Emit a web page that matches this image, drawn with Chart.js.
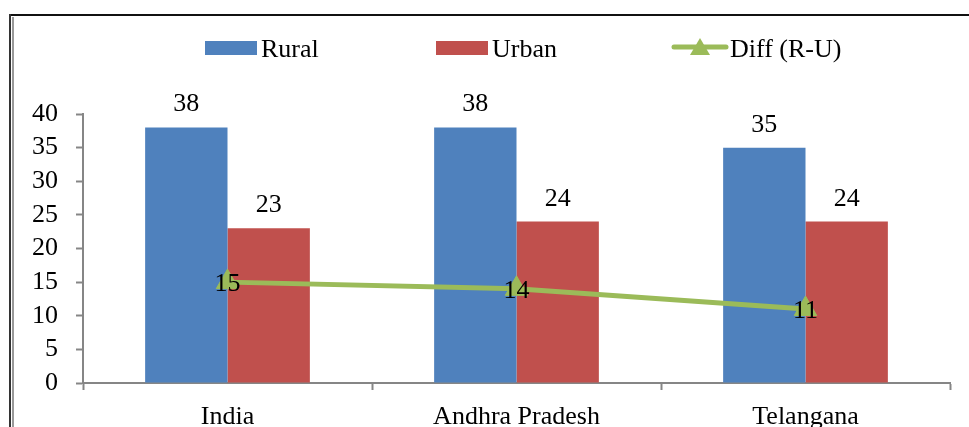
<!DOCTYPE html>
<html>
<head>
<meta charset="utf-8">
<script src="https://cdn.jsdelivr.net/npm/chart.js@4"></script>
<style>
  html, body { margin: 0; padding: 0; background: #fff; }
  #wrap { position: relative; width: 969px; height: 427px; overflow: hidden; }
  .frame-top { position: absolute; left: 9px; top: 14px; width: 980px; height: 2px; background: #111; }
  .frame-left1 { position: absolute; left: 9px; top: 14px; width: 2px; height: 440px; background: #333; }
  .frame-left2 { position: absolute; left: 12px; top: 17px; width: 2px; height: 440px; background: #999; }
  canvas { position: absolute; left: 0; top: 0; }
</style>
</head>
<body>
<div id="wrap">
  <div class="frame-top"></div>
  <div class="frame-left1"></div>
  <div class="frame-left2"></div>
  <canvas id="chart" width="969" height="427"></canvas>
</div>
<script>
const categories = ['India', 'Andhra Pradesh', 'Telangana'];
const rural = [38, 38, 35];
const urban = [23, 24, 24];
const diff = [15, 14, 11];
const yTicks = [0, 5, 10, 15, 20, 25, 30, 35, 40];

const BLUE = '#4F81BD';
const RED = '#C0504D';
const GREEN = '#9BBB59';
const FONT = '"Liberation Serif", "Times New Roman", serif';
const FS = 26;

// value labels on bars and line points
const valueLabels = {
  id: 'valueLabels',
  afterDatasetsDraw(chart) {
    const ctx = chart.ctx;
    ctx.save();
    ctx.font = FS + 'px ' + FONT;
    ctx.fillStyle = '#000';
    ctx.textAlign = 'center';
    ctx.textBaseline = 'alphabetic';
    chart.data.datasets.forEach((ds, i) => {
      const meta = chart.getDatasetMeta(i);
      meta.data.forEach((el, j) => {
        const v = ds.data[j];
        if (ds.type === 'line') {
          ctx.fillText(v, el.x, el.y + 9);
        } else {
          ctx.fillText(v, el.x, el.y - 16);
        }
      });
    });
    ctx.restore();
  }
};

// legend drawn to match the spacing of the original
const legendRow = {
  id: 'legendRow',
  afterDraw(chart) {
    const ctx = chart.ctx;
    const y = 48;
    const xs = [205, 436, 672];
    ctx.save();
    ctx.font = FS + 'px ' + FONT;
    ctx.textBaseline = 'alphabetic';
    ctx.textAlign = 'left';
    chart.data.datasets.forEach((ds, i) => {
      const x = xs[i];
      if (ds.type === 'line') {
        ctx.strokeStyle = ds.borderColor;
        ctx.lineWidth = 5;
        ctx.lineCap = 'round';
        ctx.beginPath();
        ctx.moveTo(x + 2, y - 1);
        ctx.lineTo(x + 54, y - 1);
        ctx.stroke();
        ctx.fillStyle = ds.borderColor;
        ctx.beginPath();
        ctx.moveTo(x + 28, y - 10);
        ctx.lineTo(x + 38, y + 7);
        ctx.lineTo(x + 18, y + 7);
        ctx.closePath();
        ctx.fill();
        ctx.fillStyle = '#000';
        ctx.fillText(ds.label, x + 58, y + 9);
      } else {
        ctx.fillStyle = ds.backgroundColor;
        ctx.fillRect(x, y - 7, 52, 14);
        ctx.fillStyle = '#000';
        ctx.fillText(ds.label, x + 56, y + 9);
      }
    });
    ctx.restore();
  }
};

new Chart(document.getElementById('chart'), {
  type: 'bar',
  data: {
    labels: categories,
    datasets: [
      { label: 'Rural', data: rural, backgroundColor: BLUE, order: 2 },
      { label: 'Urban', data: urban, backgroundColor: RED, order: 2 },
      { type: 'line', label: 'Diff (R-U)', data: diff, borderColor: GREEN, backgroundColor: GREEN,
        borderWidth: 5, pointStyle: 'triangle', pointRadius: 13, pointBackgroundColor: GREEN,
        pointBorderColor: GREEN, pointBorderWidth: 1, tension: 0, order: 0 }
    ]
  },
  plugins: [valueLabels, legendRow],
  options: {
    responsive: false,
    animation: false,
    layout: { padding: { top: 114, right: 19, left: 0, bottom: 0 } },
    datasets: { bar: { categoryPercentage: 0.57, barPercentage: 1.0 } },
    plugins: { legend: { display: false }, tooltip: { enabled: false } },
    scales: {
      x: {
        afterFit(s) { s.height = 44; },
        grid: { offset: true, drawOnChartArea: false, drawTicks: true, tickLength: 7, tickColor: '#868686', tickWidth: 2 },
        border: { color: '#868686', width: 2 },
        ticks: { color: '#000', font: { family: FONT, size: FS }, padding: 12, autoSkip: false, maxRotation: 0 }
      },
      y: {
        min: 0, max: 40,
        afterFit(s) { s.width = 83; },
        afterBuildTicks(s) { s.ticks = yTicks.map(v => ({ value: v })); },
        grid: { drawOnChartArea: false, drawTicks: true, tickLength: 7, tickColor: '#868686', tickWidth: 2 },
        border: { color: '#868686', width: 2 },
        ticks: { color: '#000', font: { family: FONT, size: FS }, padding: 18, autoSkip: false }
      }
    }
  }
});
</script>
</body>
</html>
